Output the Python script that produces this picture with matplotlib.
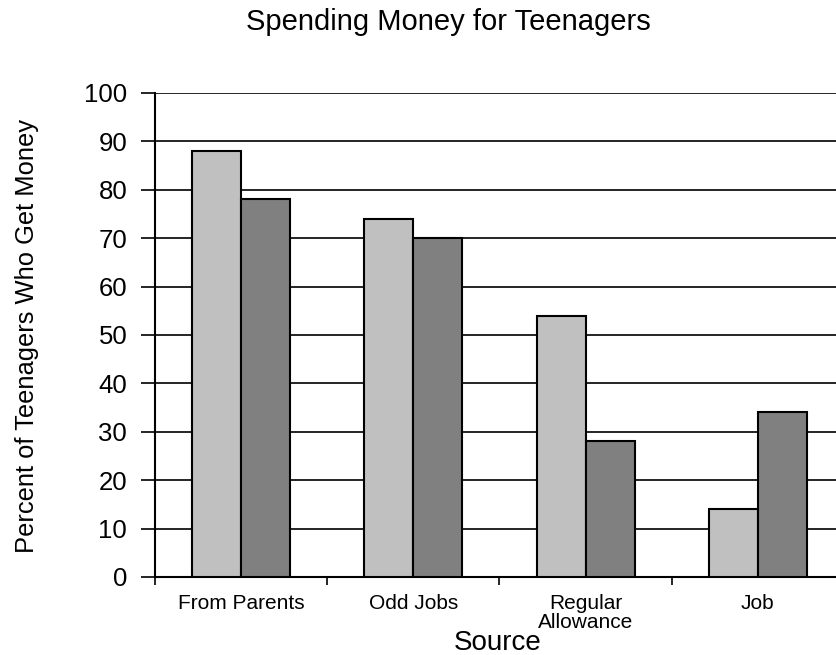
import numpy as np
import matplotlib
matplotlib.use("Agg")
import matplotlib.pyplot as plt

# Share of teenagers getting money from each source, two survey groups
sources = ["From Parents", "Odd Jobs", "Regular\nAllowance", "Job"]
group_a = [88, 74, 54, 14]
group_b = [78, 70, 28, 34]

plt.rcParams["font.family"] = ["Liberation Sans", "DejaVu Sans"]

fig = plt.figure(figsize=(8.37, 6.55), dpi=100)
# axes run past the right edge of the canvas
ax = fig.add_axes([155 / 837, 1 - 577 / 655, 689 / 837, 484 / 655])

x = np.arange(len(sources))
w = 0.285
ax.bar(x - w / 2, group_a, w, color="#C0C0C0", edgecolor="black", lw=1.5, zorder=3)
ax.bar(x + w / 2, group_b, w, color="#808080", edgecolor="black", lw=1.5, zorder=3)

ax.set_xlim(-0.5, len(sources) - 0.5)
ax.set_ylim(0, 100)
ax.set_yticks(np.arange(0, 101, 10))
ax.yaxis.grid(True, color="black", lw=1.2, zorder=0)
ax.tick_params(axis="y", length=10, width=1.2, labelsize=18.5, pad=10)

ax.set_xticks(x)
ax.set_xticklabels(sources, fontsize=15, linespacing=1.0)
ax.tick_params(axis="x", length=0, pad=12)
ax.set_xticks(np.arange(len(sources) + 1) - 0.5, minor=True)
ax.tick_params(axis="x", which="minor", length=6, width=1.2)

for s in ["top", "right"]:
    ax.spines[s].set_visible(False)
for s in ["left", "bottom"]:
    ax.spines[s].set_linewidth(1.5)

ax.set_xlabel("Source", fontsize=20)
ax.xaxis.set_label_coords(0.497, -0.11)
ax.set_ylabel("Percent of Teenagers Who Get Money", fontsize=18.4)
ax.yaxis.set_label_coords(-0.168, 0.497)

fig.text(448 / 837, 1 - 22 / 655, "Spending Money for Teenagers",
         ha="center", va="center", fontsize=21)

fig.savefig("out.png", dpi=100)
